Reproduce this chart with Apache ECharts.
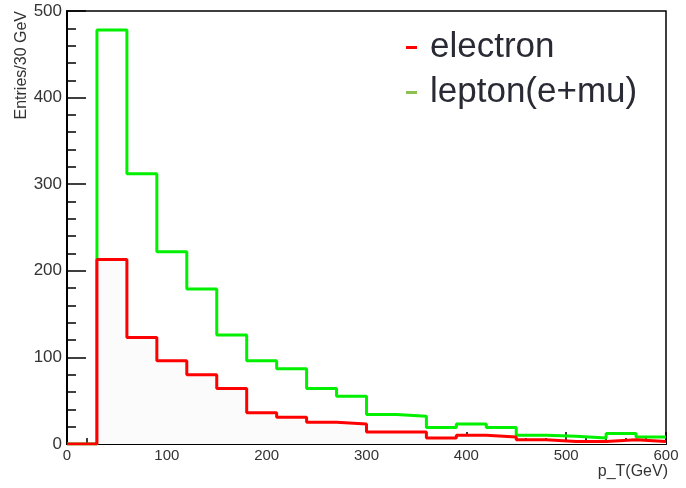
<!DOCTYPE html>
<html>
<head>
<meta charset="utf-8">
<script src="https://cdn.jsdelivr.net/npm/echarts@6/dist/echarts.min.js"></script>
<style>
  html, body { margin: 0; padding: 0; background: #fff; }
  #chart { width: 686px; height: 488px; }
</style>
</head>
<body>
<div id="chart"></div>
<script>
// lower edges of the 30 GeV bins
const binLow = [0, 30, 60, 90, 120, 150, 180, 210, 240, 270, 300, 330, 360, 390, 420, 450, 480, 510, 540, 570]
const binEnd = 600
const electron = [0, 213, 123, 96, 80, 64, 36, 31, 25, 23, 14, 14, 7, 10, 8, 5, 3, 3, 5, 3]
const lepton = [0, 478, 312, 222, 179, 126, 96, 87, 64, 55, 34, 32, 19, 23, 19, 10, 9, 7, 12, 8]
const yTicks = [0, 100, 200, 300, 400, 500]
const xTicks = [0, 100, 200, 300, 400, 500, 600]

// histogram outline: one point per bin left edge, plus the closing edge
const toSteps = (vals) => binLow.map((x, i) => [x, vals[i]]).concat([[binEnd, vals[vals.length - 1]]])

const chart = echarts.init(document.getElementById('chart'))
const font = 'Liberation Sans, Arial, sans-serif'

chart.setOption({
  animation: false,
  backgroundColor: '#fff',
  grid: {
    left: 67, right: 20, top: 11, bottom: 44,
    show: true, borderColor: '#000', borderWidth: 1.5, backgroundColor: 'transparent'
  },
  legend: {
    orient: 'vertical',
    left: 401,
    top: 25,
    itemGap: 10,
    itemWidth: 11,
    itemHeight: 3,
    textStyle: { fontSize: 35, color: '#2a2a35', fontFamily: font, padding: [0, 0, 0, 8] },
    data: [
      { name: 'electron', icon: 'rect', itemStyle: { color: '#ff0000' } },
      { name: 'lepton(e+mu)', icon: 'rect', itemStyle: { color: '#8cc152' } }
    ]
  },
  xAxis: {
    type: 'value',
    min: xTicks[0],
    max: xTicks[xTicks.length - 1],
    interval: 100,
    name: 'p_T(GeV)',
    nameLocation: 'end',
    nameGap: 2,
    nameTextStyle: { fontSize: 16, color: '#333', fontFamily: font, align: 'right', verticalAlign: 'top', padding: [20, 0, 0, 0] },
    axisLine: { lineStyle: { color: '#000', width: 2 } },
    axisTick: { inside: true, length: 12, lineStyle: { color: '#000', width: 1.5 } },
    minorTick: { show: true, splitNumber: 5, length: 6, lineStyle: { color: '#000', width: 1.5 } },
    axisLabel: { fontSize: 15, color: '#333', fontFamily: font, margin: 4 },
    splitLine: { show: false }
  },
  yAxis: {
    type: 'value',
    min: yTicks[0],
    max: yTicks[yTicks.length - 1],
    interval: 100,
    name: 'Entries/30 GeV',
    nameLocation: 'end',
    nameRotate: 90,
    nameGap: 0,
    nameTextStyle: { fontSize: 16, color: '#333', fontFamily: font, align: 'right', verticalAlign: 'bottom', padding: [0, 0, 37, 0] },
    axisLine: { lineStyle: { color: '#000', width: 2 } },
    axisTick: { inside: true, length: 19, lineStyle: { color: '#000', width: 1.5 } },
    minorTick: { show: true, splitNumber: 5, length: 9, lineStyle: { color: '#000', width: 1.5 } },
    axisLabel: { fontSize: 17, color: '#333', fontFamily: font, margin: 5 },
    splitLine: { show: false }
  },
  series: [
    {
      name: 'lepton(e+mu)',
      type: 'line',
      step: 'end',
      symbol: 'none',
      lineStyle: { color: '#00f000', width: 3 },
      itemStyle: { color: '#00f000' },
      data: toSteps(lepton),
      z: 2
    },
    {
      name: 'electron',
      type: 'line',
      step: 'end',
      symbol: 'none',
      lineStyle: { color: '#ff0000', width: 3 },
      itemStyle: { color: '#ff0000' },
      areaStyle: { color: '#fbfbfb', opacity: 1 },
      data: toSteps(electron),
      z: 3
    }
  ]
})
</script>
</body>
</html>
